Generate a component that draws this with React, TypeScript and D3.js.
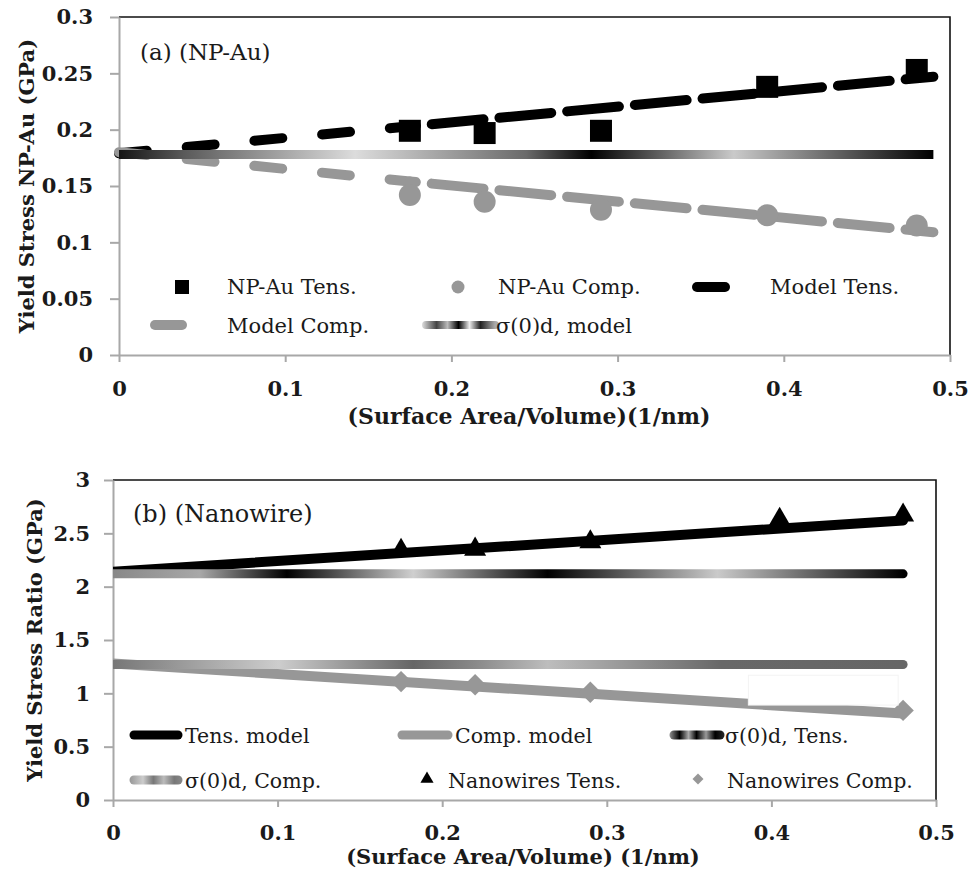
import React, { useEffect, useRef } from "react";
import * as d3 from "d3";

// shared x axis
const xTicks = [0, 0.1, 0.2, 0.3, 0.4, 0.5];
const xTickLabels = ["0", "0.1", "0.2", "0.3", "0.4", "0.5"];

// (a) NP-Au
const auYTicks = [0, 0.05, 0.1, 0.15, 0.2, 0.25, 0.3];
const auYTickLabels = ["0", "0.05", "0.1", "0.15", "0.2", "0.25", "0.3"];
const auX = [0.175, 0.22, 0.29, 0.39, 0.48];
const auTens = [0.199, 0.197, 0.199, 0.238, 0.253];
const auComp = [0.142, 0.136, 0.129, 0.124, 0.115];
const auModelX = [0, 0.175, 0.49];
const auModelTens = [0.179, 0.203, 0.247];
const auModelComp = [0.18, 0.154, 0.109];
const auSigmaX = [0, 0.49];
const auSigma = [0.178, 0.178];

// (b) Nanowire
const nwYTicks = [0, 0.5, 1, 1.5, 2, 2.5, 3];
const nwYTickLabels = ["0", "0.5", "1", "1.5", "2", "2.5", "3"];
const nwTensX = [0.175, 0.22, 0.29, 0.405, 0.48];
const nwTens = [2.34, 2.35, 2.42, 2.63, 2.67];
const nwCompX = [0.175, 0.22, 0.29, 0.48];
const nwComp = [1.11, 1.08, 1.01, 0.84];
const nwModelX = [0, 0.48];
const nwModelTens = [2.14, 2.62];
const nwModelComp = [1.28, 0.81];
const nwSigmaTens = [2.12, 2.12];
const nwSigmaComp = [1.27, 1.27];

const FONT = "'DejaVu Serif', serif";
const GRAY = "#979797";
const AXIS = "#a8a8a8";
const TEXT = "#1a1a1a";

const pts = (xs: number[], ys: number[]) => xs.map((x, i) => [x, ys[i]] as [number, number]);

function drawAxes(g: any, x: any, y: any, yTicks: number[], yLabels: string[], yPad: number, xPad: number) {
  const [x0, x1] = x.range();
  const [yb, yt] = y.range();
  // black top + right border
  g.append("path")
    .attr("d", `M${x0},${yt}H${x1}V${yb}`)
    .attr("fill", "none")
    .attr("stroke", "#111")
    .attr("stroke-width", 1.6);

  const ay = g
    .append("g")
    .attr("transform", `translate(${x0},0)`)
    .call(
      d3.axisLeft(y)
        .tickValues(yTicks)
        .tickFormat((d: any, i: number) => yLabels[i])
        .tickSize(9)
        .tickSizeOuter(0)
        .tickPadding(yPad)
    );
  const ax = g
    .append("g")
    .attr("transform", `translate(0,${yb})`)
    .call(
      d3.axisBottom(x)
        .tickValues(xTicks)
        .tickFormat((d: any, i: number) => xTickLabels[i])
        .tickSize(7)
        .tickSizeOuter(0)
        .tickPadding(xPad)
    );
  [ay, ax].forEach((a) => {
    a.select(".domain").attr("stroke", AXIS).attr("stroke-width", 2);
    a.selectAll(".tick line").attr("stroke", AXIS).attr("stroke-width", 2);
    a.selectAll(".tick text")
      .attr("font-family", FONT)
      .attr("font-weight", "bold")
      .attr("font-size", 21)
      .attr("fill", TEXT);
  });
}

function addGradient(defs: any, id: string, x1: number, x2: number, stops: [number, string][]) {
  const lg = defs
    .append("linearGradient")
    .attr("id", id)
    .attr("gradientUnits", "userSpaceOnUse")
    .attr("x1", x1)
    .attr("x2", x2)
    .attr("y1", 0)
    .attr("y2", 0);
  stops.forEach(([o, c]) => lg.append("stop").attr("offset", o).attr("stop-color", c));
}

function legendText(g: any, x: number, y: number, label: string, size: number) {
  g.append("text")
    .attr("x", x)
    .attr("y", y)
    .attr("font-family", FONT)
    .attr("font-size", size)
    .attr("fill", TEXT)
    .text(label);
}

const App = () => {
  const svgRef = useRef<SVGSVGElement>(null);

  useEffect(() => {
    const svg = d3.select(svgRef.current);
    svg.selectAll("*").remove();
    const defs = svg.append("defs");

    // ================= panel (a) =================
    const xa = d3.scaleLinear().domain([0, 0.5]).range([119, 950]);
    const ya = d3.scaleLinear().domain([0, 0.3]).range([355, 17]);
    const ga = svg.append("g");
    drawAxes(ga, xa, ya, auYTicks, auYTickLabels, 17, 19);

    const lineA = d3.line<[number, number]>().x((d) => xa(d[0])).y((d) => ya(d[1]));

    // model lines: dash pattern changes after the first data point
    const modelA = [
      { ys: auModelTens, color: "#000" },
      { ys: auModelComp, color: GRAY },
    ];
    modelA.forEach((m) => {
      const p = pts(auModelX, m.ys);
      ga.append("path")
        .attr("d", lineA(p.slice(0, 2)))
        .attr("fill", "none")
        .attr("stroke", m.color)
        .attr("stroke-width", 10)
        .attr("stroke-linecap", "round")
        .attr("stroke-dasharray", "28 40");
      ga.append("path")
        .attr("d", lineA(p.slice(1)))
        .attr("fill", "none")
        .attr("stroke", m.color)
        .attr("stroke-width", 10)
        .attr("stroke-linecap", "round")
        .attr("stroke-dasharray", "52 16")
        .attr("stroke-dashoffset", 46);
    });

    addGradient(defs, "sigA", xa(auSigmaX[0]), xa(auSigmaX[1]), [
      [0, "#151515"],
      [0.08, "#5a5a5a"],
      [0.29, "#dcdcdc"],
      [0.5, "#6a6a6a"],
      [0.58, "#000"],
      [0.755, "#cacaca"],
      [1, "#000"],
    ]);
    ga.append("path")
      .attr("d", lineA(pts(auSigmaX, auSigma)))
      .attr("fill", "none")
      .attr("stroke", "url(#sigA)")
      .attr("stroke-width", 9);

    const sq = 22;
    ga.selectAll(".sq")
      .data(pts(auX, auTens))
      .join("rect")
      .attr("x", (d) => xa(d[0]) - sq / 2)
      .attr("y", (d) => ya(d[1]) - sq / 2)
      .attr("width", sq)
      .attr("height", sq)
      .attr("fill", "#000");
    ga.selectAll(".ci")
      .data(pts(auX, auComp))
      .join("circle")
      .attr("cx", (d) => xa(d[0]))
      .attr("cy", (d) => ya(d[1]))
      .attr("r", 11)
      .attr("fill", GRAY);

    ga.append("text")
      .attr("x", 140)
      .attr("y", 60)
      .attr("font-family", FONT)
      .attr("font-size", 23)
      .attr("fill", TEXT)
      .text("(a) (NP-Au)");

    // legend (a)
    ga.append("rect").attr("x", 175).attr("y", 280).attr("width", 14).attr("height", 14).attr("fill", "#000");
    legendText(ga, 227, 294, "NP-Au Tens.", 21);
    ga.append("circle").attr("cx", 458).attr("cy", 287).attr("r", 6.5).attr("fill", GRAY);
    legendText(ga, 498, 294, "NP-Au Comp.", 21);
    ga.append("line").attr("x1", 697).attr("x2", 725).attr("y1", 287).attr("y2", 287)
      .attr("stroke", "#000").attr("stroke-width", 10).attr("stroke-linecap", "round");
    legendText(ga, 770, 294, "Model Tens.", 21);
    ga.append("line").attr("x1", 155).attr("x2", 182).attr("y1", 325).attr("y2", 325)
      .attr("stroke", GRAY).attr("stroke-width", 10).attr("stroke-linecap", "round");
    legendText(ga, 227, 333, "Model Comp.", 21);
    addGradient(defs, "sigALeg", 422, 495, [
      [0, "#dddddd"], [0.2, "#444"], [0.35, "#bbb"], [0.5, "#000"], [0.65, "#eee"], [0.8, "#222"], [1, "#aaa"],
    ]);
    ga.append("line").attr("x1", 426).attr("x2", 495).attr("y1", 325).attr("y2", 325)
      .attr("stroke", "url(#sigALeg)").attr("stroke-width", 8).attr("stroke-linecap", "round");
    legendText(ga, 496, 333, "σ(0)d, model", 21);

    // titles (a)
    ga.append("text")
      .attr("x", 529)
      .attr("y", 424)
      .attr("text-anchor", "middle")
      .attr("font-family", FONT)
      .attr("font-weight", "bold")
      .attr("font-size", 22)
      .attr("fill", TEXT)
      .text("(Surface Area/Volume)(1/nm)");
    ga.append("text")
      .attr("transform", "translate(34,186) rotate(-90)")
      .attr("text-anchor", "middle")
      .attr("font-family", FONT)
      .attr("font-weight", "bold")
      .attr("font-size", 21)
      .attr("fill", TEXT)
      .text("Yield Stress NP-Au (GPa)");

    // ================= panel (b) =================
    const xb = d3.scaleLinear().domain([0, 0.5]).range([113, 936]);
    const yb = d3.scaleLinear().domain([0, 3]).range([800, 480]);
    const gb = svg.append("g");
    drawAxes(gb, xb, yb, nwYTicks, nwYTickLabels, 14, 18);

    defs.append("clipPath").attr("id", "clipB")
      .append("rect").attr("x", 113).attr("y", 480).attr("width", 823).attr("height", 320);

    const lineB = d3.line<[number, number]>().x((d) => xb(d[0])).y((d) => yb(d[1]));
    const plotB = gb.append("g").attr("clip-path", "url(#clipB)");

    plotB.append("path")
      .attr("d", lineB(pts(nwModelX, nwModelTens)))
      .attr("fill", "none").attr("stroke", "#000").attr("stroke-width", 10).attr("stroke-linecap", "round");
    plotB.append("path")
      .attr("d", lineB(pts(nwModelX, nwModelComp)))
      .attr("fill", "none").attr("stroke", GRAY).attr("stroke-width", 10).attr("stroke-linecap", "round");

    addGradient(defs, "sigBT", xb(0), xb(0.48), [
      [0, "#888"], [0.11, "#a8a8a8"], [0.22, "#000"], [0.38, "#cfcfcf"], [0.55, "#000"], [0.765, "#cacaca"], [1, "#000"],
    ]);
    addGradient(defs, "sigBC", xb(0), xb(0.48), [
      [0, "#777"], [0.21, "#cdcdcd"], [0.38, "#666"], [0.46, "#8a8a8a"], [0.55, "#bdbdbd"], [0.77, "#686868"], [1, "#666"],
    ]);
    plotB.append("path")
      .attr("d", lineB(pts(nwModelX, nwSigmaTens)))
      .attr("fill", "none").attr("stroke", "url(#sigBT)").attr("stroke-width", 9).attr("stroke-linecap", "round");
    plotB.append("path")
      .attr("d", lineB(pts(nwModelX, nwSigmaComp)))
      .attr("fill", "none").attr("stroke", "url(#sigBC)").attr("stroke-width", 9).attr("stroke-linecap", "round");

    const tri = d3.symbol().type(d3.symbolTriangle).size(210);
    plotB.selectAll(".tri")
      .data(pts(nwTensX, nwTens))
      .join("path")
      .attr("d", tri)
      .attr("transform", (d) => `translate(${xb(d[0])},${yb(d[1])})`)
      .attr("fill", "#000");
    const dia = d3.symbol().type(d3.symbolSquare).size(230);
    plotB.selectAll(".dia")
      .data(pts(nwCompX, nwComp))
      .join("path")
      .attr("d", dia)
      .attr("transform", (d) => `translate(${xb(d[0])},${yb(d[1])}) rotate(45)`)
      .attr("fill", GRAY);

    // stray white box over the comp line
    gb.append("rect")
      .attr("x", xb(0.386))
      .attr("y", yb(1.17))
      .attr("width", xb(0.477) - xb(0.386))
      .attr("height", yb(0.89) - yb(1.17))
      .attr("fill", "#fff")
      .attr("stroke", "#f3f3f3")
      .attr("stroke-width", 1);

    gb.append("text")
      .attr("x", 133)
      .attr("y", 522)
      .attr("font-family", FONT)
      .attr("font-size", 24)
      .attr("fill", TEXT)
      .text("(b) (Nanowire)");

    // legend (b)
    const legLine = (x1: number, x2: number, y: number, stroke: string) =>
      gb.append("line").attr("x1", x1).attr("x2", x2).attr("y1", y).attr("y2", y)
        .attr("stroke", stroke).attr("stroke-width", 9).attr("stroke-linecap", "round");
    legLine(134, 178, 735, "#000");
    legendText(gb, 185, 743, "Tens. model", 20.5);
    legLine(402, 448, 735, GRAY);
    legendText(gb, 455, 743, "Comp. model", 20.5);
    addGradient(defs, "sigBTLeg", 670, 723, [
      [0, "#888"], [0.18, "#000"], [0.35, "#aaa"], [0.5, "#000"], [0.68, "#999"], [0.85, "#000"], [1, "#222"],
    ]);
    legLine(674, 720, 735, "url(#sigBTLeg)");
    legendText(gb, 725, 743, "σ(0)d, Tens.", 20.5);
    addGradient(defs, "sigBCLeg", 130, 182, [
      [0, "#999"], [0.25, "#ccc"], [0.45, "#777"], [0.65, "#bbb"], [0.85, "#777"], [1, "#888"],
    ]);
    legLine(134, 178, 780, "url(#sigBCLeg)");
    legendText(gb, 185, 788, "σ(0)d, Comp.", 20.5);
    gb.append("path")
      .attr("d", d3.symbol().type(d3.symbolTriangle).size(75)())
      .attr("transform", "translate(427,779)")
      .attr("fill", "#000");
    legendText(gb, 448, 788, "Nanowires Tens.", 20.5);
    gb.append("path")
      .attr("d", d3.symbol().type(d3.symbolSquare).size(60)())
      .attr("transform", "translate(698,779) rotate(45)")
      .attr("fill", GRAY);
    legendText(gb, 727, 788, "Nanowires Comp.", 20.5);

    // titles (b)
    gb.append("text")
      .attr("x", 523)
      .attr("y", 864)
      .attr("text-anchor", "middle")
      .attr("font-family", FONT)
      .attr("font-weight", "bold")
      .attr("font-size", 21)
      .attr("fill", TEXT)
      .text("(Surface Area/Volume) (1/nm)");
    gb.append("text")
      .attr("transform", "translate(42,640) rotate(-90)")
      .attr("text-anchor", "middle")
      .attr("font-family", FONT)
      .attr("font-weight", "bold")
      .attr("font-size", 21)
      .attr("fill", TEXT)
      .text("Yield Stress Ratio (GPa)");
  }, []);

  return (
    <svg
      ref={svgRef}
      width={968}
      height={878}
      style={{ position: "absolute", left: 0, top: 0, background: "white", display: "block" }}
    />
  );
};

export default App;
